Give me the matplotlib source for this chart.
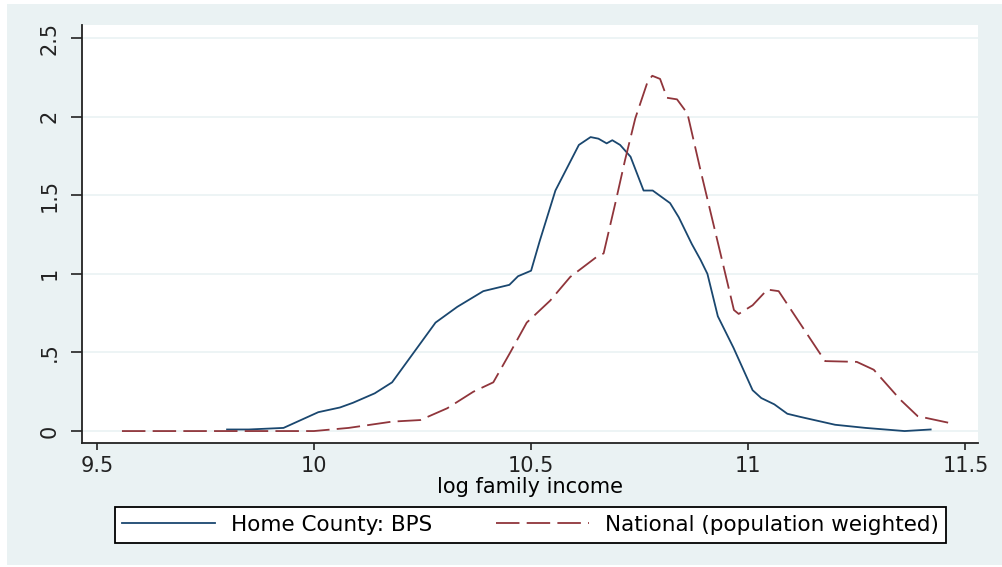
import matplotlib
matplotlib.use("Agg")
import matplotlib.pyplot as plt
from matplotlib.patches import Rectangle

# Kernel density curves
bps_x = [9.80, 9.85, 9.93, 9.97, 10.01, 10.06, 10.09, 10.14, 10.18, 10.23,
         10.28, 10.33, 10.39, 10.45, 10.47, 10.50, 10.52, 10.556, 10.61, 10.637,
         10.655, 10.674, 10.687, 10.705, 10.729, 10.759, 10.78, 10.82, 10.84, 10.87,
         10.89, 10.906, 10.93, 10.966, 11.01, 11.03, 11.06, 11.09, 11.12, 11.2,
         11.27, 11.36, 11.42]
bps_y = [0.01, 0.01, 0.02, 0.07, 0.12, 0.15, 0.18, 0.24, 0.31, 0.50,
         0.69, 0.79, 0.89, 0.93, 0.985, 1.02, 1.21, 1.53, 1.82, 1.87,
         1.86, 1.83, 1.85, 1.82, 1.745, 1.53, 1.53, 1.45, 1.36, 1.19,
         1.09, 1.00, 0.73, 0.53, 0.26, 0.21, 0.17, 0.11, 0.09, 0.04,
         0.02, 0.0, 0.01]

nat_x = [9.558, 10.0, 10.08, 10.18, 10.245, 10.307, 10.367, 10.413, 10.452, 10.49,
         10.544, 10.59, 10.652, 10.667, 10.694, 10.716, 10.74, 10.768, 10.779, 10.797,
         10.813, 10.836, 10.86, 10.89, 10.936, 10.967, 10.978, 11.01, 11.044, 11.07,
         11.16, 11.177, 11.25, 11.289, 11.35, 11.39, 11.466]
nat_y = [0.0, 0.0, 0.02, 0.06, 0.07, 0.145, 0.25, 0.31, 0.50, 0.69,
         0.83, 0.98, 1.11, 1.13, 1.45, 1.72, 1.99, 2.22, 2.26, 2.24,
         2.12, 2.11, 2.02, 1.66, 1.13, 0.77, 0.745, 0.80, 0.90, 0.89,
         0.515, 0.445, 0.44, 0.39, 0.20, 0.095, 0.05]

x_ticks = [9.5, 10, 10.5, 11, 11.5]
x_tick_labels = ["9.5", "10", "10.5", "11", "11.5"]
y_ticks = [0, 0.5, 1, 1.5, 2, 2.5]
y_tick_labels = ["0", ".5", "1", "1.5", "2", "2.5"]

bg = "#eaf2f3"
navy = "#1a476f"
maroon = "#90353b"

plt.rcParams["font.family"] = ["DejaVu Sans"]

fig = plt.figure(figsize=(10.02, 5.67), dpi=100)
fig.patch.set_facecolor("white")
# stata-ish background panel
fig.patches.append(Rectangle((7 / 1002, 2 / 567), 995 / 1002, 561 / 567,
                             transform=fig.transFigure, facecolor=bg,
                             edgecolor="none", zorder=-10))

ax = fig.add_axes([82 / 1002, 124 / 567, 896 / 1002, 418 / 567])
ax.set_facecolor("white")

ax.plot(bps_x, bps_y, color=navy, lw=1.3, label="Home County: BPS")
ax.plot(nat_x, nat_y, color=maroon, lw=1.3, dashes=(13, 4),
        label="National (population weighted)")

ax.set_xlim(9.466, 11.529)
ax.set_ylim(-0.076, 2.583)

ax.set_xticks(x_ticks)
ax.set_xticklabels(x_tick_labels, fontsize=15)
ax.set_yticks(y_ticks)
ax.set_yticklabels(y_tick_labels, fontsize=15, rotation=90, va="center")

ax.grid(axis="y", color=bg, lw=1.2)
ax.set_axisbelow(True)

for s in ["top", "right"]:
    ax.spines[s].set_visible(False)
for s in ["left", "bottom"]:
    ax.spines[s].set_linewidth(1.3)
    ax.spines[s].set_color("#222222")

ax.tick_params(axis="y", length=8, width=1.2, pad=8, colors="#222222")
ax.tick_params(axis="x", length=5, width=1.2, pad=4, colors="#222222")

ax.set_xlabel("log family income", fontsize=15, labelpad=1)

fig.legend(loc="center", bbox_to_anchor=(104 / 1002, 24 / 567, 853 / 1002, 36 / 567),
           ncol=2, fontsize=15.5, frameon=True, fancybox=False, framealpha=1,
           edgecolor="black", handlelength=4.3, columnspacing=1.8,
           borderpad=0.35, handletextpad=0.75, mode="expand")
fig.legends[0].get_frame().set_linewidth(1.3)

fig.savefig("out.png", dpi=100, facecolor=fig.get_facecolor())
